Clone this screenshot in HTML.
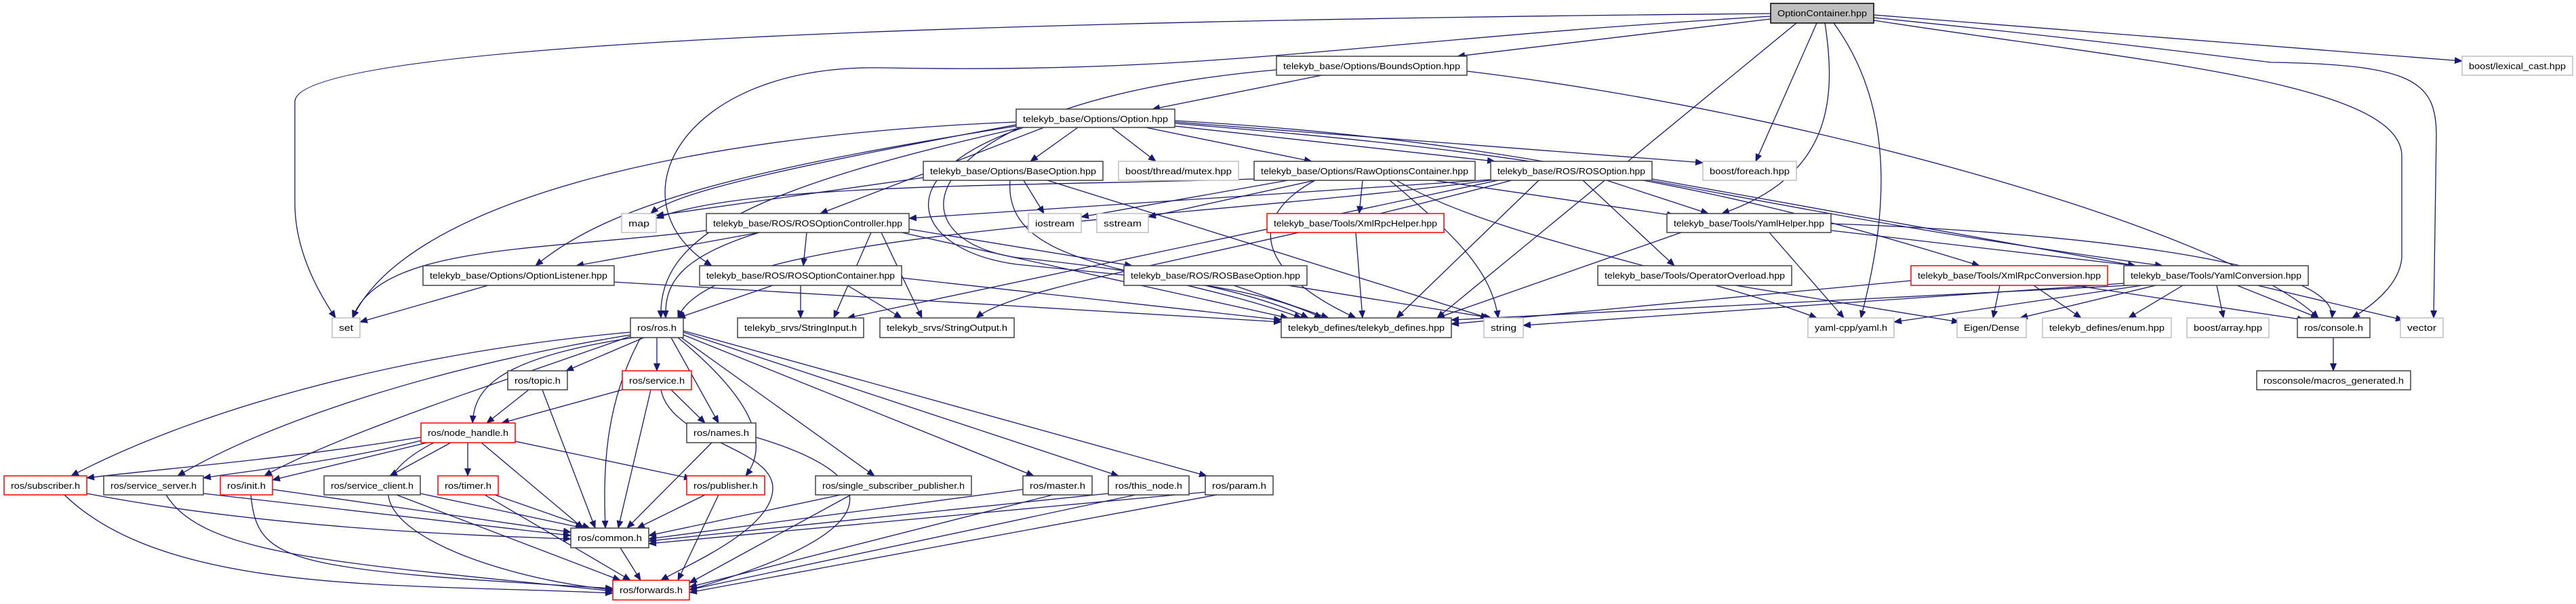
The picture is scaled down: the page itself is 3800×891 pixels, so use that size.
<!DOCTYPE html>
<html><head><meta charset="utf-8"><style>
html,body{margin:0;padding:0;background:#fff;}
svg{display:block;}
text{font-family:"Liberation Sans",sans-serif;font-size:13px;fill:#000;}
.e{fill:none;stroke:#191970;stroke-width:1.3;}
.n{fill:#fff;stroke:#404040;stroke-width:1.5;}
.l{fill:#fff;stroke:#bfbfbf;stroke-width:1.5;}
.r{fill:#fff;stroke:#ff0000;stroke-width:1.5;}
</style></head><body>
<svg width="3800" height="891" viewBox="0 0 3800 891" xmlns="http://www.w3.org/2000/svg">
<defs><marker id="a" markerWidth="12" markerHeight="10" refX="11" refY="5" orient="auto" markerUnits="userSpaceOnUse"><path d="M0,0 L12,5 L0,10 z" fill="#191970"/></marker></defs>
<g class="e" marker-end="url(#a)">
<!-- OptionContainer -->
<path d="M2612,28 L2150,83"/>
<path d="M2612,20 C1500,30 435,60 435,150 L435,300 Q435,380 495,469"/>
<path d="M2612,24 C2000,60 1800,110 1300,100 C1000,95 900,300 1050,392"/>
<path d="M2680,34 L2590,238"/>
<path d="M2692,34 C2710,150 2700,260 2540,315"/>
<path d="M2705,34 C2790,150 2790,300 2745,469"/>
<path d="M2650,34 L2120,469"/>
<path d="M2764,26 C3100,60 3250,80 3350,92 C3560,95 3594,120 3594,200 L3590,469"/>
<path d="M2764,30 C3150,90 3543,120 3543,230 L3543,380 C3540,420 3500,450 3470,469"/>
<path d="M2764,22 L3632,90"/>
<!-- BoundsOption -->
<path d="M1950,111 L1700,161"/>
<path d="M1883,103 C1350,150 1300,350 1500,380 C1700,400 1850,430 1930,469"/>
<path d="M2164,105 C2700,170 3300,350 3420,469"/>
<!-- Option -->
<path d="M1590,188 L1520,238"/>
<path d="M1640,188 L1705,238"/>
<path d="M1690,188 L1935,238"/>
<path d="M1733,186 L2205,238"/>
<path d="M1733,180 L2512,240"/>
<path d="M1733,178 C2300,210 2500,300 3190,392"/>
<path d="M1733,182 C2200,220 2500,260 2920,392"/>
<path d="M1499,180 C1000,200 600,300 520,469"/>
<path d="M1499,184 C1200,240 1000,280 960,315"/>
<path d="M1499,190 C1100,280 970,350 975,469"/>
<path d="M1499,186 C1100,250 900,300 790,392"/>
<path d="M1540,188 L1210,315"/>
<path d="M1510,188 C1300,260 1350,370 1500,390 C1700,410 1850,420 1950,469"/>
<!-- BaseOption -->
<path d="M1510,266 L1540,315"/>
<path d="M1362,262 L968,318"/>
<path d="M1490,266 C1480,400 1700,390 1920,469"/>
<path d="M1545,266 L2195,469"/>
<!-- RawOptionsContainer -->
<path d="M1850,264 C1500,275 1100,270 968,322"/>
<path d="M1900,266 L1595,320"/>
<path d="M1940,266 L1694,320"/>
<path d="M2010,266 L2005,315"/>
<path d="M1940,266 C1840,320 1850,400 2000,469"/>
<path d="M2060,266 C2200,350 2500,400 2680,469"/>
<path d="M2050,266 C2150,350 2200,400 2210,469"/>
<path d="M2115,266 L2470,318"/>
<!-- ROSOption -->
<path d="M2199,265 L1341,322"/>
<path d="M2199,266 C1700,330 1050,340 1000,469"/>
<path d="M2270,266 L2060,469"/>
<path d="M2335,266 L2470,392"/>
<path d="M2370,266 L2520,315"/>
<path d="M2230,266 C1800,380 1500,420 1440,469"/>
<path d="M2437,264 L3150,392"/>
<path d="M2210,266 L1250,469"/>
<!-- ROSOptionController -->
<path d="M1042,340 C800,370 560,360 520,469"/>
<path d="M1120,343 L850,392"/>
<path d="M1120,343 C1000,380 980,420 982,469"/>
<path d="M1190,343 L1185,392"/>
<path d="M1285,343 L1230,469"/>
<path d="M1300,343 L1360,469"/>
<path d="M1341,338 L1670,392"/>
<path d="M1330,343 L1900,469"/>
<!-- XmlRpcHelper / YamlHelper -->
<path d="M2000,343 L2010,469"/>
<path d="M2480,343 L2120,469"/>
<path d="M2610,343 L2720,469"/>
<path d="M2701,340 L3150,392"/>
<path d="M2701,330 C3000,340 3450,380 3440,469"/>
<!-- row 5 -->
<path d="M720,421 L531,475"/>
<path d="M906,416 L1890,475"/>
<path d="M1140,421 L1000,469"/>
<path d="M1181,421 L1181,469"/>
<path d="M1250,421 L1330,469"/>
<path d="M1330,410 L1890,472"/>
<path d="M1820,421 L1960,469"/>
<path d="M1900,421 L2200,469"/>
<path d="M2560,421 L2890,475"/>
<path d="M2819,414 L2141,478"/>
<path d="M2950,421 L2940,469"/>
<path d="M3000,421 L3070,469"/>
<path d="M3060,421 L3400,472"/>
<path d="M3133,418 L2247,480"/>
<path d="M3160,421 L2794,475"/>
<path d="M3180,421 L2980,469"/>
<path d="M3220,421 L3140,469"/>
<path d="M3270,421 L3280,469"/>
<path d="M3300,421 L3420,469"/>
<path d="M3330,421 L3545,472"/>
<path d="M3140,421 L2141,472"/>
<path d="M3442,498 L3442,547"/>
<!-- ros/ros.h -->
<path d="M950,498 L835,547"/>
<path d="M969,498 L969,547"/>
<path d="M935,498 C720,530 700,580 697,624"/>
<path d="M990,498 L1060,624"/>
<path d="M930,490 C600,520 300,600 105,702"/>
<path d="M930,494 C650,540 400,620 262,702"/>
<path d="M930,496 C750,560 500,640 390,702"/>
<path d="M1000,498 C1100,580 1140,650 1100,702"/>
<path d="M1005,498 L1290,702"/>
<path d="M1008,494 L1525,702"/>
<path d="M1008,490 L1650,702"/>
<path d="M1008,488 L1780,702"/>
<path d="M945,498 C890,600 890,700 893,779"/>
<!-- topic / service / names -->
<path d="M780,575 L718,624"/>
<path d="M800,575 L878,779"/>
<path d="M918,575 L740,624"/>
<path d="M990,575 L1040,624"/>
<path d="M960,575 L912,779"/>
<path d="M975,575 C990,650 1140,660 1140,720 C1140,780 1020,830 975,856"/>
<path d="M1050,653 L925,779"/>
<path d="M1115,645 C1300,700 1330,780 1017,870"/>
<!-- node_handle -->
<path d="M621,645 C400,680 250,690 128,705"/>
<path d="M621,650 C500,680 400,690 300,705"/>
<path d="M630,653 L402,708"/>
<path d="M665,653 L575,702"/>
<path d="M690,653 L690,702"/>
<path d="M760,651 L1020,706"/>
<path d="M710,653 L860,779"/>
<path d="M640,653 C450,750 700,850 904,870"/>
<!-- row 9 -->
<path d="M128,728 C400,780 700,790 842,795"/>
<path d="M95,730 C250,880 600,860 904,875"/>
<path d="M300,728 L842,790"/>
<path d="M245,730 C300,820 500,830 904,872"/>
<path d="M402,722 L842,785"/>
<path d="M370,730 C380,830 420,840 904,868"/>
<path d="M620,728 L860,779"/>
<path d="M585,730 L915,856"/>
<path d="M730,730 L870,779"/>
<path d="M715,730 L930,856"/>
<path d="M1040,730 L940,779"/>
<path d="M1060,730 L1000,856"/>
<path d="M1240,730 L957,790"/>
<path d="M1255,730 L1017,860"/>
<path d="M1509,722 L957,795"/>
<path d="M1553,730 L1017,866"/>
<path d="M1635,728 L957,798"/>
<path d="M1675,730 L1017,870"/>
<path d="M1778,726 L957,802"/>
<path d="M1795,730 L1017,874"/>
<path d="M915,808 L945,856"/>
</g>
<!-- nodes -->
<rect x="2612" y="5" width="152" height="29" fill="#bfbfbf" stroke="#000" stroke-width="1.5"/><text x="2622" y="24" textLength="132" lengthAdjust="spacingAndGlyphs">OptionContainer.hpp</text>
<rect class="n" x="1883" y="83" width="281" height="28"/><text x="1893" y="102" textLength="261" lengthAdjust="spacingAndGlyphs">telekyb_base/Options/BoundsOption.hpp</text>
<rect class="l" x="3632" y="83" width="163" height="28"/><text x="3642" y="102" textLength="143" lengthAdjust="spacingAndGlyphs">boost/lexical_cast.hpp</text>
<rect class="n" x="1499" y="161" width="234" height="27"/><text x="1509" y="180" textLength="214" lengthAdjust="spacingAndGlyphs">telekyb_base/Options/Option.hpp</text>
<rect class="n" x="1362" y="238" width="265" height="28"/><text x="1372" y="257" textLength="245" lengthAdjust="spacingAndGlyphs">telekyb_base/Options/BaseOption.hpp</text>
<rect class="l" x="1650" y="238" width="177" height="28"/><text x="1660" y="257" textLength="157" lengthAdjust="spacingAndGlyphs">boost/thread/mutex.hpp</text>
<rect class="n" x="1850" y="238" width="326" height="28"/><text x="1860" y="257" textLength="306" lengthAdjust="spacingAndGlyphs">telekyb_base/Options/RawOptionsContainer.hpp</text>
<rect class="n" x="2199" y="238" width="238" height="28"/><text x="2209" y="257" textLength="218" lengthAdjust="spacingAndGlyphs">telekyb_base/ROS/ROSOption.hpp</text>
<rect class="l" x="2512" y="238" width="138" height="28"/><text x="2522" y="257" textLength="118" lengthAdjust="spacingAndGlyphs">boost/foreach.hpp</text>
<rect class="l" x="917" y="315" width="51" height="28"/><text x="927" y="334" textLength="31" lengthAdjust="spacingAndGlyphs">map</text>
<rect class="n" x="1042" y="315" width="299" height="28"/><text x="1052" y="334" textLength="279" lengthAdjust="spacingAndGlyphs">telekyb_base/ROS/ROSOptionController.hpp</text>
<rect class="l" x="1517" y="315" width="78" height="28"/><text x="1527" y="334" textLength="58" lengthAdjust="spacingAndGlyphs">iostream</text>
<rect class="l" x="1618" y="315" width="76" height="28"/><text x="1628" y="334" textLength="56" lengthAdjust="spacingAndGlyphs">sstream</text>
<rect class="r" x="1869" y="315" width="261" height="28"/><text x="1879" y="334" textLength="241" lengthAdjust="spacingAndGlyphs">telekyb_base/Tools/XmlRpcHelper.hpp</text>
<rect class="n" x="2459" y="315" width="242" height="28"/><text x="2469" y="334" textLength="222" lengthAdjust="spacingAndGlyphs">telekyb_base/Tools/YamlHelper.hpp</text>
<rect class="n" x="624" y="392" width="282" height="29"/><text x="634" y="411" textLength="262" lengthAdjust="spacingAndGlyphs">telekyb_base/Options/OptionListener.hpp</text>
<rect class="n" x="1032" y="392" width="298" height="29"/><text x="1042" y="411" textLength="278" lengthAdjust="spacingAndGlyphs">telekyb_base/ROS/ROSOptionContainer.hpp</text>
<rect class="n" x="1658" y="392" width="270" height="29"/><text x="1668" y="411" textLength="250" lengthAdjust="spacingAndGlyphs">telekyb_base/ROS/ROSBaseOption.hpp</text>
<rect class="n" x="2357" y="392" width="286" height="29"/><text x="2367" y="411" textLength="266" lengthAdjust="spacingAndGlyphs">telekyb_base/Tools/OperatorOverload.hpp</text>
<rect class="r" x="2819" y="392" width="290" height="29"/><text x="2829" y="411" textLength="270" lengthAdjust="spacingAndGlyphs">telekyb_base/Tools/XmlRpcConversion.hpp</text>
<rect class="n" x="3133" y="392" width="272" height="29"/><text x="3143" y="411" textLength="252" lengthAdjust="spacingAndGlyphs">telekyb_base/Tools/YamlConversion.hpp</text>
<rect class="l" x="490" y="469" width="41" height="29"/><text x="500" y="488" textLength="21" lengthAdjust="spacingAndGlyphs">set</text>
<rect class="n" x="930" y="469" width="78" height="29"/><text x="940" y="488" textLength="58" lengthAdjust="spacingAndGlyphs">ros/ros.h</text>
<rect class="n" x="1088" y="469" width="186" height="29"/><text x="1098" y="488" textLength="166" lengthAdjust="spacingAndGlyphs">telekyb_srvs/StringInput.h</text>
<rect class="n" x="1298" y="469" width="198" height="29"/><text x="1308" y="488" textLength="178" lengthAdjust="spacingAndGlyphs">telekyb_srvs/StringOutput.h</text>
<rect class="n" x="1890" y="469" width="251" height="29"/><text x="1900" y="488" textLength="231" lengthAdjust="spacingAndGlyphs">telekyb_defines/telekyb_defines.hpp</text>
<rect class="l" x="2189" y="469" width="58" height="29"/><text x="2199" y="488" textLength="38" lengthAdjust="spacingAndGlyphs">string</text>
<rect class="l" x="2667" y="469" width="127" height="29"/><text x="2677" y="488" textLength="107" lengthAdjust="spacingAndGlyphs">yaml-cpp/yaml.h</text>
<rect class="l" x="2887" y="469" width="102" height="29"/><text x="2897" y="488" textLength="82" lengthAdjust="spacingAndGlyphs">Eigen/Dense</text>
<rect class="l" x="3013" y="469" width="190" height="29"/><text x="3023" y="488" textLength="170" lengthAdjust="spacingAndGlyphs">telekyb_defines/enum.hpp</text>
<rect class="l" x="3226" y="469" width="121" height="29"/><text x="3236" y="488" textLength="101" lengthAdjust="spacingAndGlyphs">boost/array.hpp</text>
<rect class="n" x="3389" y="469" width="107" height="29"/><text x="3399" y="488" textLength="87" lengthAdjust="spacingAndGlyphs">ros/console.h</text>
<rect class="l" x="3541" y="469" width="63" height="29"/><text x="3551" y="488" textLength="43" lengthAdjust="spacingAndGlyphs">vector</text>
<rect class="n" x="749" y="547" width="88" height="28"/><text x="759" y="566" textLength="68" lengthAdjust="spacingAndGlyphs">ros/topic.h</text>
<rect class="r" x="918" y="547" width="102" height="28"/><text x="928" y="566" textLength="82" lengthAdjust="spacingAndGlyphs">ros/service.h</text>
<rect class="n" x="3329" y="547" width="227" height="28"/><text x="3339" y="566" textLength="207" lengthAdjust="spacingAndGlyphs">rosconsole/macros_generated.h</text>
<rect class="r" x="621" y="624" width="139" height="29"/><text x="631" y="643" textLength="119" lengthAdjust="spacingAndGlyphs">ros/node_handle.h</text>
<rect class="n" x="1013" y="624" width="102" height="29"/><text x="1023" y="643" textLength="82" lengthAdjust="spacingAndGlyphs">ros/names.h</text>
<rect class="r" x="6" y="702" width="122" height="28"/><text x="16" y="721" textLength="102" lengthAdjust="spacingAndGlyphs">ros/subscriber.h</text>
<rect class="n" x="153" y="702" width="147" height="28"/><text x="163" y="721" textLength="127" lengthAdjust="spacingAndGlyphs">ros/service_server.h</text>
<rect class="r" x="325" y="702" width="77" height="28"/><text x="335" y="721" textLength="57" lengthAdjust="spacingAndGlyphs">ros/init.h</text>
<rect class="n" x="478" y="702" width="142" height="28"/><text x="488" y="721" textLength="122" lengthAdjust="spacingAndGlyphs">ros/service_client.h</text>
<rect class="r" x="646" y="702" width="89" height="28"/><text x="656" y="721" textLength="69" lengthAdjust="spacingAndGlyphs">ros/timer.h</text>
<rect class="r" x="1013" y="702" width="115" height="28"/><text x="1023" y="721" textLength="95" lengthAdjust="spacingAndGlyphs">ros/publisher.h</text>
<rect class="n" x="1203" y="702" width="230" height="28"/><text x="1213" y="721" textLength="210" lengthAdjust="spacingAndGlyphs">ros/single_subscriber_publisher.h</text>
<rect class="n" x="1509" y="702" width="102" height="28"/><text x="1519" y="721" textLength="82" lengthAdjust="spacingAndGlyphs">ros/master.h</text>
<rect class="n" x="1635" y="702" width="119" height="28"/><text x="1645" y="721" textLength="99" lengthAdjust="spacingAndGlyphs">ros/this_node.h</text>
<rect class="n" x="1778" y="702" width="100" height="28"/><text x="1788" y="721" textLength="80" lengthAdjust="spacingAndGlyphs">ros/param.h</text>
<rect class="n" x="842" y="779" width="115" height="29"/><text x="852" y="798" textLength="95" lengthAdjust="spacingAndGlyphs">ros/common.h</text>
<rect class="r" x="904" y="856" width="113" height="29"/><text x="914" y="875" textLength="93" lengthAdjust="spacingAndGlyphs">ros/forwards.h</text>
</svg>
</body></html>
